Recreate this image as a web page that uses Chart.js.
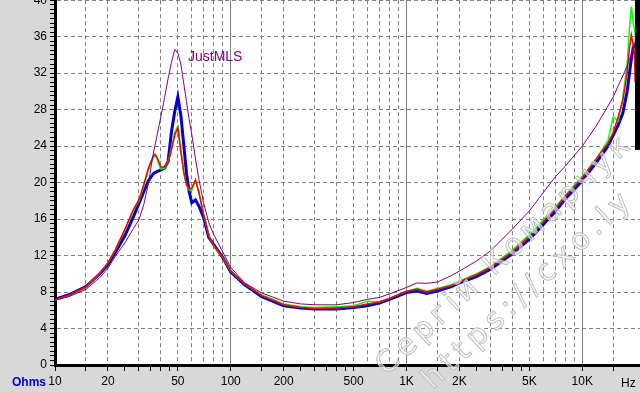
<!DOCTYPE html>
<html>
<head>
<meta charset="utf-8">
<script src="https://cdn.jsdelivr.net/npm/chart.js@4/dist/chart.umd.min.js"></script>
<style>
  body { margin: 0; background: #d8d8d8; }
  #wrap { position: relative; width: 640px; height: 393px; overflow: hidden; background: #d8d8d8;
          font-family: "Liberation Sans", Arial, sans-serif; }
  #chart { position: absolute; left: 0; top: -10px; }
  .txt { position: absolute; white-space: nowrap; line-height: 1; }
  .wm { position: absolute; white-space: nowrap; line-height: 1; color: rgba(255,255,255,0.55);
        -webkit-text-stroke: 1px #c0c0c0; font-family: "DejaVu Sans", sans-serif; font-size: 30px;
        transform-origin: 0 100%; transform: rotate(-43deg); }
</style>
</head>
<body>
<div id="wrap">
  <canvas id="chart" width="640" height="403"></canvas>
  <span class="txt" style="left:12px;top:376px;font-size:12px;font-weight:bold;color:#0000c8">Ohms</span>
  <span class="txt" style="left:621px;top:376.5px;font-size:12px;color:#000">Hz</span>
  <span class="txt" style="left:188px;top:49px;font-size:14px;color:#800080">JustMLS</span>
  <span class="wm" style="left:390px;top:350px;letter-spacing:5px">Сергій Комарчук</span>
  <span class="wm" style="left:436px;top:364px;letter-spacing:6px">https://cxo.ly</span>
</div>
<script>
// impedance curves, Hz / Ohm
let freqHz = [10, 12, 15, 18, 20, 22, 25, 28, 30, 32, 34, 36, 37, 38, 40, 42, 44, 46, 48, 50,
    52, 54, 56, 58, 60, 63, 66, 70, 75, 80, 90, 100, 120, 150, 200, 250, 300, 400, 500, 600,
    700, 800, 1000, 1150, 1300, 1500, 1800, 2000, 2500, 3000, 4000, 5000, 6000, 7000, 8000,
    10000, 12000, 14000, 15000, 16000, 17000, 18000, 18500, 19000, 19500, 19800, 20000]

let blueOhm = [7.2, 7.7, 8.6, 10.0, 11.0, 12.3, 14.2, 16.3, 17.7, 19.0, 20.2, 20.9, 21.1, 21.2, 21.4,
    21.6, 22.3, 25.6, 27.8, 29.4, 27.4, 24.2, 21.0, 19.0, 17.8, 18.1, 17.4, 16.2, 14.0, 13.2,
    11.8, 10.2, 8.8, 7.5, 6.5, 6.25, 6.15, 6.15, 6.3, 6.5, 6.8, 7.2, 7.95, 8.1, 7.85,
    8.1, 8.6, 9.0, 9.7, 10.5, 12.2, 13.8, 15.4, 16.8, 18.2, 20.2, 22.2, 24.0, 25.2, 26.3,
    27.6, 30.0, 31.8, 33.5, 34.8, 35.0, 35.3]

let greenOhm = [7.1, 7.6, 8.5, 10.1, 11.2, 12.6, 14.8, 17.0, 18.0, 19.6, 21.4, 22.6, 23.0, 22.6, 21.5,
    21.6, 22.3, 23.8, 25.5, 26.2, 23.6, 21.0, 19.7, 19.2, 19.2, 20.2, 19.0, 16.6, 14.2, 13.0,
    11.8, 10.3, 8.9, 7.7, 6.7, 6.4, 6.3, 6.4, 6.5, 7.0, 6.9, 7.3, 8.1, 8.4, 8.1,
    8.4, 8.8, 9.2, 10.0, 10.8, 12.6, 14.3, 15.9, 17.3, 18.6, 20.7, 22.6, 24.6, 27.2, 26.8,
    29.3, 33.0, 36.5, 39.3, 37.5, 36.8, 36.2]

let redOhm = [7.15, 7.65, 8.55, 10.1, 11.2, 12.6, 14.9, 17.1, 18.1, 19.8, 21.6, 22.8, 23.1, 22.8, 21.7,
    21.7, 22.2, 23.6, 25.2, 26.0, 23.4, 21.2, 19.8, 19.3, 19.4, 20.3, 18.8, 16.5, 14.1, 13.1,
    11.8, 10.3, 8.9, 7.6, 6.6, 6.3, 6.2, 6.25, 6.4, 6.7, 6.9, 7.3, 8.1, 8.3, 8.0,
    8.3, 8.7, 9.1, 9.9, 10.7, 12.4, 14.1, 15.7, 17.1, 18.5, 20.5, 22.6, 24.3, 25.5, 27.2,
    29.0, 32.0, 34.5, 36.2, 35.0, 34.2, 31.0]

let justMlsOhm = [7.1, 7.5, 8.3, 9.6, 10.6, 11.9, 13.4, 15.0, 15.9, 17.6, 19.9, 22.9, 24.0, 25.1, 27.2,
    29.3, 31.4, 33.2, 34.6, 34.2, 33.0, 30.9, 28.9, 26.9, 25.3, 22.6, 20.3, 17.8, 15.6, 14.3,
    12.4, 10.7, 9.0, 7.9, 7.0, 6.7, 6.6, 6.6, 6.85, 7.2, 7.4, 7.8, 8.5, 9.0, 8.95,
    9.1, 9.8, 10.3, 11.4, 12.5, 14.9, 16.9, 18.9, 20.6, 21.8, 24.0, 26.2, 28.4, 29.4, 30.6,
    31.7, 32.8, 33.4, 34.0, 34.8, 35.2, 35.5]

let xTickLabels = { 10: '10', 20: '20', 50: '50', 100: '100', 200: '200', 500: '500',
    1000: '1K', 2000: '2K', 5000: '5K', 10000: '10K' }
let xSteps = [1, 1.5, 2, 2.5, 3, 3.5, 4, 4.5, 5, 6, 7, 8, 9]
let yTickStep = 0.5

function mant(v) {
    let m = v / Math.pow(10, Math.floor(Math.log10(v) + 1e-9))
    return Math.round(m * 10) / 10
}

function toPoints(arr) {
    return freqHz.map((f, i) => ({ x: f, y: arr[i] }))
}

let xTicks = []
for (let d = 10; d <= 10000; d *= 10) {
    xSteps.forEach(s => {
        let v = Math.round(s * d)
        if (v <= 15000) xTicks.push(v)
    })
}

// white plot area + the black strip at the right edge (top part)
let areaPlugin = {
    id: 'area',
    beforeDraw(chart) {
        let a = chart.chartArea
        let ctx = chart.ctx
        ctx.save()
        ctx.fillStyle = '#ffffff'
        ctx.fillRect(a.left, a.top, a.right - a.left, a.bottom - a.top)
        ctx.restore()
    },
    afterDraw(chart) {
        let a = chart.chartArea
        let ctx = chart.ctx
        let x0 = Math.round(chart.scales.x.getPixelForValue(20000))
        ctx.save()
        ctx.fillStyle = '#000'
        ctx.fillRect(x0, 0, a.right - x0, 160)
        ctx.restore()
    }
}

new Chart(document.getElementById('chart'), {
    type: 'line',
    data: {
        datasets: [
            { label: 'JustMLS', data: toPoints(justMlsOhm), borderColor: '#800080', borderWidth: 1, order: 0 },
            { label: 'red', data: toPoints(redOhm), borderColor: '#ff0000', borderWidth: 1.5, order: 1 },
            { label: 'green', data: toPoints(greenOhm), borderColor: '#00ff00', borderWidth: 1.5, order: 2 },
            { label: 'blue', data: toPoints(blueOhm), borderColor: '#0000c8', borderWidth: 3, order: 3 }
        ]
    },
    options: {
        responsive: false,
        devicePixelRatio: 1,
        animation: false,
        layout: { padding: { top: 6, right: 0, left: 0, bottom: 0 } },
        elements: { point: { radius: 0 }, line: { tension: 0 } },
        plugins: { legend: { display: false }, tooltip: { enabled: false } },
        scales: {
            x: {
                type: 'logarithmic',
                min: 10,
                max: 21300,
                afterBuildTicks: axis => { axis.ticks = xTicks.map(v => ({ value: v })) },
                afterFit: axis => { axis.height = 28 },
                ticks: {
                    autoSkip: false, maxRotation: 0, minRotation: 0, padding: 3,
                    color: '#000', font: { family: '"Liberation Sans", Arial', size: 12 },
                    callback: v => xTickLabels[v] || ''
                },
                grid: {
                    color: c => {
                        let m = mant(c.tick.value)
                        if (c.tick.value === 10 || m === 2.5 || m === 3.5 || m === 4.5) return 'rgba(0,0,0,0)'
                        return '#808080'
                    },
                    tickColor: c => mant(c.tick.value) > 5 ? 'rgba(0,0,0,0)' : '#000',
                    tickLength: 6,
                    lineWidth: 1
                },
                border: {
                    color: '#000', width: 3,
                    dash: c => (c.tick && mant(c.tick.value) === 1) ? [] : [4, 3]
                }
            },
            y: {
                min: 0,
                max: 40,
                afterBuildTicks: axis => {
                    let t = []
                    for (let v = 0; v <= 40; v += yTickStep) t.push({ value: v })
                    axis.ticks = t
                },
                afterFit: axis => { axis.width = 55 },
                ticks: {
                    autoSkip: false, padding: 3, color: '#000',
                    font: { family: '"Liberation Sans", Arial', size: 12 },
                    callback: v => v % 4 === 0 ? String(v) : ''
                },
                grid: {
                    color: c => (c.tick.value % 4 === 0 && c.tick.value > 0) ? '#808080' : 'rgba(0,0,0,0)',
                    tickColor: '#000',
                    tickLength: 5,
                    lineWidth: 1
                },
                border: { color: '#000', width: 3, dash: [4, 3] }
            }
        }
    },
    plugins: [areaPlugin]
})
</script>
</body>
</html>
